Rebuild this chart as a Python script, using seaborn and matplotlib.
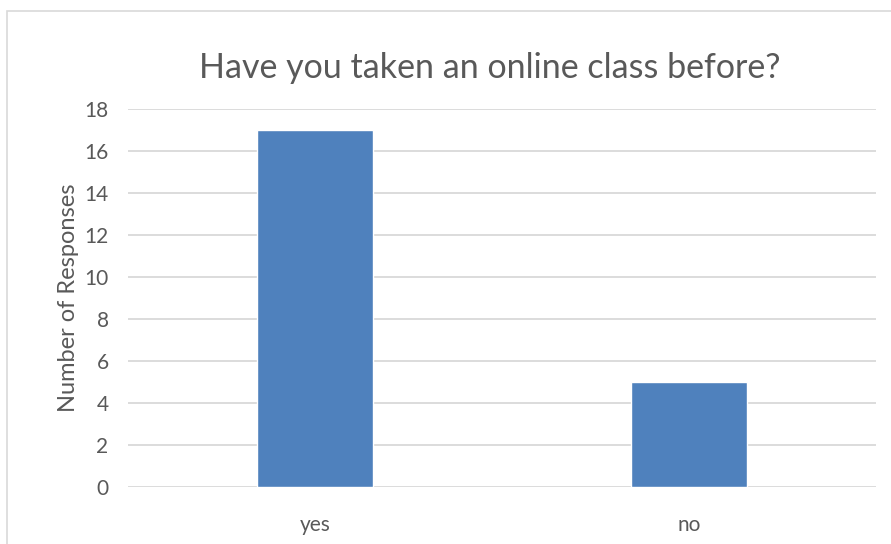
import seaborn as sns
import matplotlib.pyplot as plt
from matplotlib.patches import Rectangle

answers = ['yes', 'no']
responses = [17, 5]
y_ticks = [0, 2, 4, 6, 8, 10, 12, 14, 16, 18]

sns.set_style('white')
plt.rcParams['font.family'] = ['Lato', 'DejaVu Sans']

fig = plt.figure(figsize=(8.91, 5.44), dpi=100)
ax = fig.add_axes([128/891, 1 - 487/544, (876 - 128)/891, (487 - 109)/544])

sns.barplot(x=answers, y=responses, color='#4F81BD', width=0.31, saturation=1, ax=ax, zorder=3)

ax.set_xlim(-0.5, 1.5)
ax.set_ylim(0, 18)
ax.set_yticks(y_ticks)
ax.grid(axis='y', color='#D9D9D9', linewidth=1.3, zorder=0)
for s in ax.spines.values():
    s.set_visible(False)
ax.tick_params(axis='both', length=0, labelsize=15, colors='#595959')
ax.tick_params(axis='y', pad=14)
ax.tick_params(axis='x', pad=20)
ax.set_ylabel('Number of Responses', fontsize=17, color='#595959', labelpad=4)
ax.set_xlabel('')
fig.text(490/891, 1 - 68/544, 'Have you taken an online class before?', fontsize=24.5,
         color='#595959', ha='center', va='center')

# chart area border
fig.patches.append(Rectangle((7/891, -0.05), 1, 1 - 11/544 + 0.05, transform=fig.transFigure,
                             fill=False, edgecolor='#D9D9D9', linewidth=1.2))

fig.savefig('out.png', dpi=100)
